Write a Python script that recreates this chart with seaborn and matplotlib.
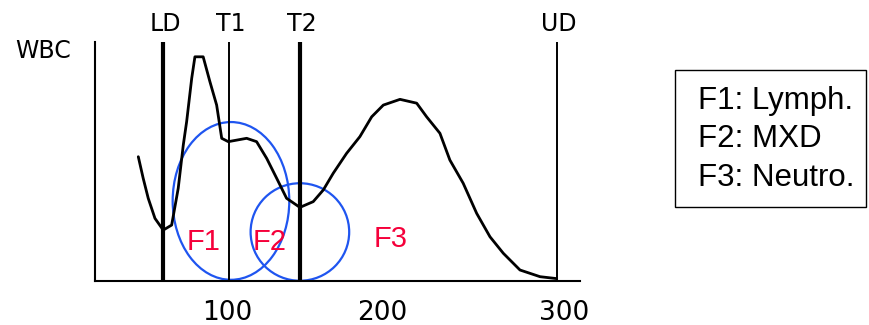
import numpy as np
import pandas as pd
import matplotlib
matplotlib.use('Agg')
import matplotlib.pyplot as plt
from matplotlib.patches import Ellipse, Rectangle
import seaborn as sns

# Histograma WBC (volumen en fL, altura relativa)
vol = [47.4, 50.3, 53.3, 57.3, 62.2, 67.2, 71.1, 74.1, 76.1, 79.1, 81.0, 85.9,
       89.9, 93.9, 96.9, 100.8, 111.7, 117.6, 123.6, 129.5, 135.4, 143.3,
       151.2, 157.2, 163.1, 171.0, 178.9, 185.9, 192.8, 202.7, 212.6, 218.5,
       226.4, 232.3, 240.2, 248.2, 256.1, 264.0, 273.9, 285.8, 295.7]
freq = [52.0, 43.0, 34.6, 26.2, 21.3, 23.4, 38.8, 56.9, 66.7, 84.8, 93.8, 93.8,
        83.4, 73.6, 59.7, 58.3, 59.7, 58.3, 51.3, 43.0, 34.6, 30.8,
        33.2, 38.1, 45.1, 53.4, 60.4, 68.7, 73.6, 76.0, 74.4, 68.7,
        61.8, 50.6, 40.9, 28.3, 18.5, 11.6, 4.6, 1.8, 1.0]

# discriminadores
gate_names = ['LD', 'T1', 'T2', 'UD']
gate_pos = [62.2, 101.2, 143.3, 295.7]

# fracciones
frac_names = ['F1', 'F2', 'F3']
frac_label_x = [86.1, 125.5, 197.3]
frac_label_y = [16.3, 16.3, 17.6]

tick_pos = [100, 192, 300]
tick_labels = ['100', '200', '300']

legend_lines = ['F1: Lymph.', 'F2: MXD', 'F3: Neutro.']

df = pd.DataFrame({'vol': vol, 'freq': freq})

sns.set_style('white')
plt.rcParams['font.family'] = ['DejaVu Sans']
plt.rcParams['text.color'] = 'black'
plt.rcParams['xtick.color'] = 'black'

fig = plt.figure(figsize=(8.69, 3.25), dpi=100)
ax = fig.add_axes([0.1093, 0.1354, 0.5581, 0.7354])

sns.lineplot(data=df, x='vol', y='freq', ax=ax, color='black', linewidth=2.0)

widths = [3.0, 1.4, 3.0, 1.4]
for name, x, w in zip(gate_names, gate_pos, widths):
    ax.axvline(x, ymin=0, ymax=1, color='black', linewidth=w)
    ax.text(x + 1, 107.5, name, ha='center', va='center', fontsize=17, clip_on=False)

# elipses de las fracciones
ax.add_patch(Ellipse((102.4, 33.5), 69.2, 66.0, fill=False, edgecolor='#1f55f0',
                     linewidth=1.6, clip_on=False))
ax.add_patch(Ellipse((143.3, 20.5), 58.5, 40.8, fill=False, edgecolor='#1f55f0',
                     linewidth=1.6, clip_on=False))

for name, x, y in zip(frac_names, frac_label_x, frac_label_y):
    ax.text(x, y, name, color='#f5003a', fontsize=21, ha='center', va='center',
            family=['Liberation Sans'])

ax.set_xlim(21.7, 309.5)
ax.set_ylim(0, 100)
ax.set_xticks(tick_pos)
ax.set_xticklabels(tick_labels, fontsize=19)
ax.set_yticks([])
ax.tick_params(axis='x', length=0, pad=14)
ax.set_xlabel('')
ax.set_ylabel('')
for s in ['top', 'right']:
    ax.spines[s].set_visible(False)
for s in ['left', 'bottom']:
    ax.spines[s].set_color('black')
    ax.spines[s].set_linewidth(1.5)

fig.text(0.050, 0.843, 'WBC', fontsize=17, ha='center', va='center')

# cuadro de leyenda
fig.patches.append(Rectangle((0.7768, 0.3631), 0.2198, 0.4215, transform=fig.transFigure,
                             fill=False, edgecolor='black', linewidth=1.0))
fig.text(0.8032, 0.735, '\n'.join(legend_lines), fontsize=22.5, ha='left', va='top',
         linespacing=1.36, family=['Liberation Sans'])

plt.savefig('out.png', dpi=100)
